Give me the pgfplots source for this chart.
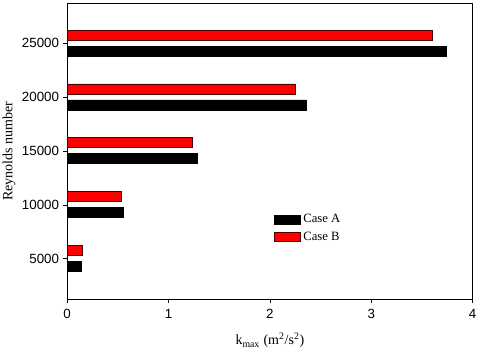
\documentclass[border=0pt]{standalone}
\usepackage{fontspec}
\setmainfont{Liberation Serif}
\setsansfont{Liberation Sans}
\usepackage{pgfplots}
\pgfplotsset{compat=1.18}

\begin{document}
\begin{tikzpicture}
\begin{axis}[
    name=ax,
    scale only axis,
    width=304pt, height=222pt,
    xmin=0, xmax=4,
    ymin=1250, ymax=28750,
    xbar,
    bar width=930,
    xtick={0,1,2,3,4},
    ytick={5000,10000,15000,20000,25000},
    yticklabels={5000,10000,15000,20000,25000},
    scaled y ticks=false,
    scaled x ticks=false,
    tick align=outside,
    tick pos=left,
    major tick length=3pt,
    tick style={black, line width=0.5pt},
    axis line style={line width=0.6pt},
    tick label style={font=\sffamily\fontsize{10}{12}\selectfont},
    /pgf/number format/assume math mode=true,
    xticklabel style={yshift=-1pt},
    yticklabel style={xshift=0.5pt},
    xlabel={k\textsubscript{max} (m\textsuperscript{2}/s\textsuperscript{2})},
    ylabel={Reynolds number},
    label style={font=\fontsize{10.5}{12}\selectfont},
    xlabel style={yshift=-4pt},
    ylabel style={yshift=-2pt},
    legend style={draw=none, fill=none, at={(0.5,0.305)}, anchor=north west,
        font=\fontsize{9.5}{11}\selectfont, row sep=1.2pt,
        legend cell align=left},
    legend image code/.code={\draw[#1] (0pt,-3.2pt) rectangle (19.5pt,3.2pt);},
]
\addplot[fill=black, draw=black, bar shift=-715] coordinates {
    (0.14,5000) (0.55,10000) (1.28,15000) (2.36,20000) (3.74,25000)
};
\addplot[fill=red, draw=black!70!red, line width=0.4pt, bar shift=770] coordinates {
    (0.15,5000) (0.535,10000) (1.235,15000) (2.25,20000) (3.60,25000)
};
\legend{Case A, Case B}
\end{axis}
\pgfresetboundingbox
\path ([shift={(-50.3pt,-42pt)}]ax.south west) rectangle ([shift={(5.5pt,2.2pt)}]ax.north east);
\end{tikzpicture}
\end{document}
